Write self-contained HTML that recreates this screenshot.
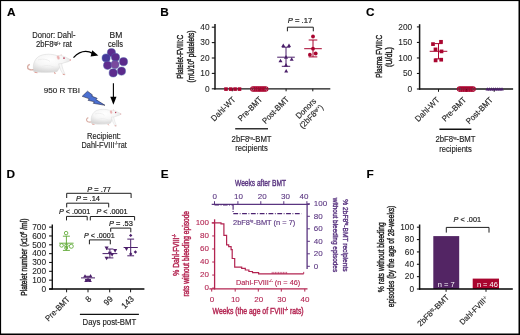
<!DOCTYPE html>
<html><head><meta charset="utf-8"><style>
html,body{margin:0;padding:0;background:#fff;}
body{width:520px;height:335px;overflow:hidden;position:relative;}
svg{position:absolute;left:0;top:0;display:block;filter:blur(0.3px);}
svg text{font-family:"Liberation Sans", sans-serif;stroke:currentColor;stroke-width:0.14px;}
</style></head><body>
<svg width="520" height="335" viewBox="0 0 520 335">
<rect x="0" y="0" width="520" height="335" fill="#fff"/>
<text x="7.0" y="16.2" font-size="11.8" fill="#000" color="#000" text-anchor="start" font-weight="bold" >A</text>
<text x="160.3" y="16.2" font-size="11.8" fill="#000" color="#000" text-anchor="start" font-weight="bold" >B</text>
<text x="366.0" y="16.4" font-size="11.8" fill="#000" color="#000" text-anchor="start" font-weight="bold" >C</text>
<text x="6.6" y="178.1" font-size="11.8" fill="#000" color="#000" text-anchor="start" font-weight="bold" >D</text>
<text x="160.8" y="178.2" font-size="11.8" fill="#000" color="#000" text-anchor="start" font-weight="bold" >E</text>
<text x="366.6" y="178.0" font-size="11.8" fill="#000" color="#000" text-anchor="start" font-weight="bold" >F</text>
<text x="53.9" y="38.0" font-size="8.3" fill="#1e1e1e" color="#1e1e1e" text-anchor="middle" textLength="43.2" lengthAdjust="spacingAndGlyphs" >Donor: Dahl-</text>
<text x="36" y="47.3" font-size="8.3" fill="#1e1e1e" textLength="35.9" lengthAdjust="spacingAndGlyphs" color="#1e1e1e">2bF8<tspan font-size="4.6" dy="-2.8">tg/+</tspan><tspan dy="2.8"> rat</tspan></text>
<text x="115.9" y="37.5" font-size="8.3" fill="#1e1e1e" color="#1e1e1e" text-anchor="middle" textLength="12.8" lengthAdjust="spacingAndGlyphs" >BM</text>
<text x="115.5" y="47.3" font-size="8.3" fill="#1e1e1e" color="#1e1e1e" text-anchor="middle" textLength="15.0" lengthAdjust="spacingAndGlyphs" >cells</text>
<text x="43.8" y="93.2" font-size="8.0" fill="#1e1e1e" color="#1e1e1e" text-anchor="start" textLength="36.2" lengthAdjust="spacingAndGlyphs" >950 R TBI</text>
<text x="104.0" y="138.6" font-size="8.3" fill="#1e1e1e" color="#1e1e1e" text-anchor="middle" textLength="33.8" lengthAdjust="spacingAndGlyphs" >Recipient:</text>
<text x="81.6" y="148" font-size="8.3" fill="#1e1e1e" textLength="45.2" lengthAdjust="spacingAndGlyphs" color="#1e1e1e">Dahl-FVIII<tspan font-size="4.6" dy="-2.8">-/-</tspan><tspan dy="2.8">rat</tspan></text>
<defs>
<radialGradient id="ratg" cx="0.45" cy="0.3" r="0.75">
<stop offset="0" stop-color="#ffffff"/><stop offset="0.5" stop-color="#f6f6f6"/><stop offset="1" stop-color="#d2d2d2"/>
</radialGradient>
<g id="rat">
<path d="M34.5,69.5 C30,70.6 27.2,69.2 27.6,66.6 C27.9,65.4 28.8,64.8 29.8,64.4" stroke="#d8ada4" stroke-width="1.4" fill="none"/>
<path d="M33.6,70.2 C32.4,64 35,58 40,55.8 C45,53.6 52,53.9 57,55.6 L60.5,55.4 C63.5,55.9 67.5,58 70.6,59.8 C70.1,61.2 68,61.9 66,62.3 C63.6,62.9 61.6,63.6 60.2,64.6 C59.6,67.2 58.8,69.6 57.2,71.4 L50,71.9 C44,72.1 38,72.3 33.6,71.4 Z" fill="url(#ratg)" stroke="#d3d3d3" stroke-width="0.45"/>
<path d="M58.6,63.8 C59.6,68 61,71.6 63.2,74.2 L65.2,74.5 C63.4,71 62.2,67.4 61.6,63.6 Z" fill="#f7f7f7" stroke="#cfcfcf" stroke-width="0.4"/>
<path d="M38,60 C42,58.5 47,59 50,61.5 M42,66.5 C46,64.8 51,65.6 55,67.5" stroke="#ececec" stroke-width="0.9" fill="none"/>
<ellipse cx="58.3" cy="57.6" rx="1.4" ry="2.1" fill="#eab0b0" stroke="#f6e6e6" stroke-width="0.4" transform="rotate(-20 58.3 57.6)"/>
<ellipse cx="61.2" cy="55.0" rx="0.6" ry="1.0" fill="#f0d8d8"/>
<circle cx="64.0" cy="58.1" r="0.9" fill="#b8405a"/>
<circle cx="70.3" cy="60.0" r="0.75" fill="#e79a9a"/>
<path d="M62.8,74.3 l1.9,0.3 M54.2,72.2 l1.2,1.6 M34.5,72.3 l3,0.5" stroke="#e0a098" stroke-width="1.1" fill="none"/>
<path d="M36,71.6 C42,72.6 50,72.4 56.5,71.6" stroke="#dcdcdc" stroke-width="0.8" fill="none"/>
</g>
</defs>
<use href="#rat"/>
<use href="#rat" transform="translate(121.5,114) scale(0.8,0.82) translate(-71.3,-60)"/>
<circle cx="111.4" cy="52.6" r="4.1" fill="#5b2c8e" stroke="#4a64ae" stroke-width="0.45"/>
<circle cx="106.1" cy="58.0" r="4.1" fill="#46399a" stroke="#4a64ae" stroke-width="0.45"/>
<circle cx="115.5" cy="57.3" r="4.1" fill="#5a2c8c" stroke="#4a64ae" stroke-width="0.45"/>
<circle cx="123.5" cy="61.7" r="4.1" fill="#5b2a8c" stroke="#4a64ae" stroke-width="0.45"/>
<circle cx="107.6" cy="65.3" r="4.1" fill="#5f2d8e" stroke="#4a64ae" stroke-width="0.45"/>
<circle cx="113.2" cy="72.9" r="4.1" fill="#5d2b8d" stroke="#4a64ae" stroke-width="0.45"/>
<circle cx="121.5" cy="71.1" r="4.1" fill="#5b2a8b" stroke="#4a64ae" stroke-width="0.45"/>
<circle cx="115.0" cy="64.6" r="4.1" fill="#7a4a9e" stroke="#4a64ae" stroke-width="0.45"/>
<path d="M73.5,57.6 Q83,47.8 93,53.6" stroke="#000" stroke-width="1.25" fill="none" />
<polygon points="98.3,55.6 92.2,50.2 90.6,56.4" fill="#000"/>
<line x1="113.4" y1="83.2" x2="113.4" y2="98.5" stroke="#000" stroke-width="1.1" />
<polygon points="110.3,96.8 116.5,96.8 113.4,104.8" fill="#000"/>
<polygon points="82.2,96.3 87.5,91.2 92.6,95 91.6,96.1 97.2,98.3 96,99.6 105,105.3 93.2,103.3 94.4,101.8 88,100.3 89.4,98.8" fill="#4b70d1" stroke="#14142e" stroke-width="0.5" stroke-linejoin="round"/>
<line x1="215" y1="24" x2="215" y2="89.5" stroke="#161616" stroke-width="1.5" />
<line x1="211.8" y1="88.8" x2="215" y2="88.8" stroke="#161616" stroke-width="1.1" />
<text x="209.5" y="91.5" font-size="8.3" fill="#1e1e1e" color="#1e1e1e" text-anchor="end" style="stroke-width:0.08px" >0</text>
<line x1="211.8" y1="73.39999999999999" x2="215" y2="73.39999999999999" stroke="#161616" stroke-width="1.1" />
<text x="209.5" y="76.1" font-size="8.3" fill="#1e1e1e" color="#1e1e1e" text-anchor="end" style="stroke-width:0.08px" >10</text>
<line x1="211.8" y1="58.0" x2="215" y2="58.0" stroke="#161616" stroke-width="1.1" />
<text x="209.5" y="60.7" font-size="8.3" fill="#1e1e1e" color="#1e1e1e" text-anchor="end" style="stroke-width:0.08px" >20</text>
<line x1="211.8" y1="42.599999999999994" x2="215" y2="42.599999999999994" stroke="#161616" stroke-width="1.1" />
<text x="209.5" y="45.3" font-size="8.3" fill="#1e1e1e" color="#1e1e1e" text-anchor="end" style="stroke-width:0.08px" >30</text>
<line x1="211.8" y1="27.199999999999996" x2="215" y2="27.199999999999996" stroke="#161616" stroke-width="1.1" />
<text x="209.5" y="29.899999999999995" font-size="8.3" fill="#1e1e1e" color="#1e1e1e" text-anchor="end" style="stroke-width:0.08px" >40</text>
<line x1="214.3" y1="88.8" x2="330.3" y2="88.8" stroke="#161616" stroke-width="1.3" />
<line x1="232.3" y1="88.8" x2="232.3" y2="91.3" stroke="#161616" stroke-width="1.0" />
<line x1="259.2" y1="88.8" x2="259.2" y2="91.3" stroke="#161616" stroke-width="1.0" />
<line x1="286.1" y1="88.8" x2="286.1" y2="91.3" stroke="#161616" stroke-width="1.0" />
<line x1="312.8" y1="88.8" x2="312.8" y2="91.3" stroke="#161616" stroke-width="1.0" />
<rect x="224.2" y="87.3" width="3.6" height="3.6" fill="#a9052f"/>
<rect x="228.89999999999998" y="87.3" width="3.6" height="3.6" fill="#a9052f"/>
<rect x="233.29999999999998" y="87.3" width="3.6" height="3.6" fill="#a9052f"/>
<rect x="237.7" y="87.3" width="3.6" height="3.6" fill="#a9052f"/>
<circle cx="252.90" cy="89" r="2.25" fill="none" stroke="#a9052f" stroke-width="1.05"/>
<circle cx="254.73" cy="89" r="2.25" fill="none" stroke="#a9052f" stroke-width="1.05"/>
<circle cx="256.56" cy="89" r="2.25" fill="none" stroke="#a9052f" stroke-width="1.05"/>
<circle cx="258.39" cy="89" r="2.25" fill="none" stroke="#a9052f" stroke-width="1.05"/>
<circle cx="260.22" cy="89" r="2.25" fill="none" stroke="#a9052f" stroke-width="1.05"/>
<circle cx="262.05" cy="89" r="2.25" fill="none" stroke="#a9052f" stroke-width="1.05"/>
<circle cx="263.88" cy="89" r="2.25" fill="none" stroke="#a9052f" stroke-width="1.05"/>
<circle cx="265.71" cy="89" r="2.25" fill="none" stroke="#a9052f" stroke-width="1.05"/>
<line x1="286.0" y1="47.2" x2="286.0" y2="66.3" stroke="#4b1f6a" stroke-width="1.0" />
<line x1="281.8" y1="47.2" x2="290.2" y2="47.2" stroke="#4b1f6a" stroke-width="1.0" />
<line x1="281.8" y1="66.3" x2="290.2" y2="66.3" stroke="#4b1f6a" stroke-width="1.0" />
<line x1="277.2" y1="57.2" x2="294.8" y2="57.2" stroke="#4b1f6a" stroke-width="1.0" />
<polygon points="281.30,47.00 285.30,47.00 283.30,43.40" fill="#4b1f6a"/>
<polygon points="287.00,47.00 291.00,47.00 289.00,43.40" fill="#4b1f6a"/>
<polygon points="278.50,62.30 282.50,62.30 280.50,58.70" fill="#4b1f6a"/>
<polygon points="289.70,60.80 293.70,60.80 291.70,57.20" fill="#4b1f6a"/>
<polygon points="284.00,66.70 288.00,66.70 286.00,63.10" fill="#4b1f6a"/>
<polygon points="284.20,72.50 288.20,72.50 286.20,68.90" fill="#4b1f6a"/>
<polygon points="284.00,58.70 288.00,58.70 286.00,55.10" fill="#4b1f6a"/>
<line x1="313.0" y1="40.0" x2="313.0" y2="56.9" stroke="#a9052f" stroke-width="1.0" />
<line x1="308.7" y1="40.0" x2="317.3" y2="40.0" stroke="#a9052f" stroke-width="1.0" />
<line x1="308.7" y1="56.9" x2="317.3" y2="56.9" stroke="#a9052f" stroke-width="1.0" />
<line x1="304.2" y1="48.7" x2="321.8" y2="48.7" stroke="#a9052f" stroke-width="1.0" />
<circle cx="313.0" cy="36.5" r="1.9" fill="#a9052f"/>
<circle cx="313.0" cy="48.7" r="1.9" fill="#a9052f"/>
<circle cx="309.9" cy="54.7" r="1.9" fill="#a9052f"/>
<circle cx="315.7" cy="53.5" r="1.9" fill="#a9052f"/>
<path d="M287.4,31.3 V27.2 H313.3 V31.3" stroke="#1e1e1e" stroke-width="1.0" fill="none" />
<text x="287.7" y="22.5" style="stroke-width:0.22px" font-size="8.0" fill="#1e1e1e" text-anchor="start" textLength="24.6" lengthAdjust="spacingAndGlyphs" color="#1e1e1e"><tspan font-style="italic">P</tspan> = .17</text>
<text x="183.4" y="78.8" font-size="9.2" fill="#1e1e1e" color="#1e1e1e" text-anchor="start" textLength="44.0" lengthAdjust="spacingAndGlyphs" transform="rotate(-90 183.4 78.8)" style="stroke-width:0.42px" >Platelet-FVIII:C</text>
<text x="193.6" y="82.4" style="stroke-width:0.42px" font-size="9.2" fill="#1e1e1e" textLength="51.9" lengthAdjust="spacingAndGlyphs" transform="rotate(-90 193.6 82.4)" color="#1e1e1e">(mU/10<tspan font-size="4.6" dy="-3">8</tspan><tspan dy="3"> platelets)</tspan></text>
<text x="236.1" y="100.0" font-size="8.3" fill="#1e1e1e" color="#1e1e1e" text-anchor="end" textLength="30.8" lengthAdjust="spacingAndGlyphs" transform="rotate(-45 236.1 100.0)" >Dahl-WT</text>
<text x="262.9" y="100.0" font-size="8.3" fill="#1e1e1e" color="#1e1e1e" text-anchor="end" textLength="30.6" lengthAdjust="spacingAndGlyphs" transform="rotate(-45 262.9 100.0)" >Pre-BMT</text>
<text x="289.6" y="100.0" font-size="8.3" fill="#1e1e1e" color="#1e1e1e" text-anchor="end" textLength="34.2" lengthAdjust="spacingAndGlyphs" transform="rotate(-45 289.6 100.0)" >Post-BMT</text>
<text x="307.9" y="110.5" font-size="8.3" fill="#1e1e1e" color="#1e1e1e" text-anchor="middle" textLength="25.0" lengthAdjust="spacingAndGlyphs" transform="rotate(-45 307.9 110.5)" >Donors</text>
<text x="313.3" y="118.4" font-size="8.3" fill="#1e1e1e" text-anchor="middle" textLength="30" lengthAdjust="spacingAndGlyphs" transform="rotate(-45 313.3 118.4)" color="#1e1e1e">(2bF8<tspan font-size="4.3" dy="-2.8">tg/+</tspan><tspan dy="2.8">)</tspan></text>
<line x1="235.2" y1="128.7" x2="268.0" y2="128.7" stroke="#333" stroke-width="1.4" />
<text x="251.6" y="141.8" font-size="8.4" fill="#1e1e1e" text-anchor="middle" textLength="40" lengthAdjust="spacingAndGlyphs" color="#1e1e1e">2bF8<tspan font-size="4.4" dy="-2.8">tg</tspan><tspan dy="2.8">-BMT</tspan></text>
<text x="251.5" y="151.3" font-size="8.4" fill="#1e1e1e" color="#1e1e1e" text-anchor="middle" textLength="32.6" lengthAdjust="spacingAndGlyphs" >recipients</text>
<line x1="419.6" y1="24.2" x2="419.6" y2="89.7" stroke="#161616" stroke-width="1.5" />
<line x1="416.9" y1="89.0" x2="419.6" y2="89.0" stroke="#161616" stroke-width="1.1" />
<text x="412.2" y="91.7" font-size="8.3" fill="#1e1e1e" color="#1e1e1e" text-anchor="end" style="stroke-width:0.08px" >0</text>
<line x1="416.9" y1="73.48" x2="419.6" y2="73.48" stroke="#161616" stroke-width="1.1" />
<text x="412.2" y="76.18" font-size="8.3" fill="#1e1e1e" color="#1e1e1e" text-anchor="end" style="stroke-width:0.08px" >50</text>
<line x1="416.9" y1="57.96" x2="419.6" y2="57.96" stroke="#161616" stroke-width="1.1" />
<text x="412.2" y="60.660000000000004" font-size="8.3" fill="#1e1e1e" color="#1e1e1e" text-anchor="end" style="stroke-width:0.08px" >100</text>
<line x1="416.9" y1="42.44" x2="419.6" y2="42.44" stroke="#161616" stroke-width="1.1" />
<text x="412.2" y="45.14" font-size="8.3" fill="#1e1e1e" color="#1e1e1e" text-anchor="end" style="stroke-width:0.08px" >150</text>
<line x1="416.9" y1="26.92" x2="419.6" y2="26.92" stroke="#161616" stroke-width="1.1" />
<text x="412.2" y="29.62" font-size="8.3" fill="#1e1e1e" color="#1e1e1e" text-anchor="end" style="stroke-width:0.08px" >200</text>
<line x1="418.9" y1="89.0" x2="513.1" y2="89.0" stroke="#161616" stroke-width="1.3" />
<line x1="438.5" y1="89" x2="438.5" y2="91.8" stroke="#161616" stroke-width="1.0" />
<line x1="466.5" y1="89" x2="466.5" y2="91.8" stroke="#161616" stroke-width="1.0" />
<line x1="494.2" y1="89" x2="494.2" y2="91.8" stroke="#161616" stroke-width="1.0" />
<line x1="438.5" y1="43.6" x2="438.5" y2="58.9" stroke="#a9052f" stroke-width="1.0" />
<line x1="434.5" y1="43.6" x2="442.5" y2="43.6" stroke="#a9052f" stroke-width="1.0" />
<line x1="434.5" y1="58.9" x2="442.5" y2="58.9" stroke="#a9052f" stroke-width="1.0" />
<line x1="429.7" y1="51.3" x2="447.3" y2="51.3" stroke="#a9052f" stroke-width="1.0" />
<rect x="431.15" y="42.25" width="3.7" height="3.7" fill="#a9052f"/>
<rect x="439.15" y="39.949999999999996" width="3.7" height="3.7" fill="#a9052f"/>
<rect x="433.65" y="47.55" width="3.7" height="3.7" fill="#a9052f"/>
<rect x="439.65" y="49.55" width="3.7" height="3.7" fill="#a9052f"/>
<rect x="433.75" y="58.55" width="3.7" height="3.7" fill="#a9052f"/>
<rect x="439.34999999999997" y="57.85" width="3.7" height="3.7" fill="#a9052f"/>
<circle cx="459.60" cy="89.1" r="2.25" fill="none" stroke="#a9052f" stroke-width="1.05"/>
<circle cx="461.53" cy="89.1" r="2.25" fill="none" stroke="#a9052f" stroke-width="1.05"/>
<circle cx="463.46" cy="89.1" r="2.25" fill="none" stroke="#a9052f" stroke-width="1.05"/>
<circle cx="465.39" cy="89.1" r="2.25" fill="none" stroke="#a9052f" stroke-width="1.05"/>
<circle cx="467.32" cy="89.1" r="2.25" fill="none" stroke="#a9052f" stroke-width="1.05"/>
<circle cx="469.25" cy="89.1" r="2.25" fill="none" stroke="#a9052f" stroke-width="1.05"/>
<circle cx="471.18" cy="89.1" r="2.25" fill="none" stroke="#a9052f" stroke-width="1.05"/>
<circle cx="473.11" cy="89.1" r="2.25" fill="none" stroke="#a9052f" stroke-width="1.05"/>
<polygon points="485.50,90.53 489.10,90.53 487.30,87.29" fill="#4b1f6a"/>
<polygon points="487.60,90.53 491.20,90.53 489.40,87.29" fill="#4b1f6a"/>
<polygon points="489.70,90.53 493.30,90.53 491.50,87.29" fill="#4b1f6a"/>
<polygon points="491.80,90.53 495.40,90.53 493.60,87.29" fill="#4b1f6a"/>
<polygon points="493.90,90.53 497.50,90.53 495.70,87.29" fill="#4b1f6a"/>
<polygon points="496.00,90.53 499.60,90.53 497.80,87.29" fill="#4b1f6a"/>
<polygon points="498.10,90.53 501.70,90.53 499.90,87.29" fill="#4b1f6a"/>
<polygon points="500.20,90.53 503.80,90.53 502.00,87.29" fill="#4b1f6a"/>
<text x="382.2" y="77.8" font-size="9.3" fill="#1e1e1e" color="#1e1e1e" text-anchor="start" textLength="43.0" lengthAdjust="spacingAndGlyphs" transform="rotate(-90 382.2 77.8)" style="stroke-width:0.42px" >Plasma FVIII:C</text>
<text x="392.2" y="67.1" font-size="9.3" fill="#1e1e1e" color="#1e1e1e" text-anchor="start" textLength="20.1" lengthAdjust="spacingAndGlyphs" transform="rotate(-90 392.2 67.1)" style="stroke-width:0.42px" >(U/dL)</text>
<text x="440.1" y="100.4" font-size="8.3" fill="#1e1e1e" color="#1e1e1e" text-anchor="end" textLength="30.8" lengthAdjust="spacingAndGlyphs" transform="rotate(-45 440.1 100.4)" >Dahl-WT</text>
<text x="466.8" y="100.4" font-size="8.3" fill="#1e1e1e" color="#1e1e1e" text-anchor="end" textLength="30.6" lengthAdjust="spacingAndGlyphs" transform="rotate(-45 466.8 100.4)" >Pre-BMT</text>
<text x="493.45" y="100.4" font-size="8.3" fill="#1e1e1e" color="#1e1e1e" text-anchor="end" textLength="34.2" lengthAdjust="spacingAndGlyphs" transform="rotate(-45 493.45 100.4)" >Post-BMT</text>
<line x1="439.4" y1="129.2" x2="471.4" y2="129.2" stroke="#111" stroke-width="1.4" />
<text x="455.5" y="142.0" font-size="8.4" fill="#1e1e1e" text-anchor="middle" textLength="40" lengthAdjust="spacingAndGlyphs" color="#1e1e1e">2bF8<tspan font-size="4.4" dy="-2.8">tg</tspan><tspan dy="2.8">-BMT</tspan></text>
<text x="455.5" y="151.5" font-size="8.4" fill="#1e1e1e" color="#1e1e1e" text-anchor="middle" textLength="32.6" lengthAdjust="spacingAndGlyphs" >recipients</text>
<line x1="52.3" y1="224.5" x2="52.3" y2="289.6" stroke="#161616" stroke-width="1.4" />
<line x1="49.1" y1="289.0" x2="52.1" y2="289.0" stroke="#161616" stroke-width="1.1" />
<text x="46.0" y="291.7" font-size="8.3" fill="#1e1e1e" color="#1e1e1e" text-anchor="end" style="stroke-width:0.08px" >0</text>
<line x1="49.1" y1="280.16" x2="52.1" y2="280.16" stroke="#161616" stroke-width="1.1" />
<text x="46.0" y="282.86" font-size="8.3" fill="#1e1e1e" color="#1e1e1e" text-anchor="end" style="stroke-width:0.08px" >100</text>
<line x1="49.1" y1="271.32" x2="52.1" y2="271.32" stroke="#161616" stroke-width="1.1" />
<text x="46.0" y="274.02" font-size="8.3" fill="#1e1e1e" color="#1e1e1e" text-anchor="end" style="stroke-width:0.08px" >200</text>
<line x1="49.1" y1="262.48" x2="52.1" y2="262.48" stroke="#161616" stroke-width="1.1" />
<text x="46.0" y="265.18" font-size="8.3" fill="#1e1e1e" color="#1e1e1e" text-anchor="end" style="stroke-width:0.08px" >300</text>
<line x1="49.1" y1="253.64" x2="52.1" y2="253.64" stroke="#161616" stroke-width="1.1" />
<text x="46.0" y="256.34" font-size="8.3" fill="#1e1e1e" color="#1e1e1e" text-anchor="end" style="stroke-width:0.08px" >400</text>
<line x1="49.1" y1="244.8" x2="52.1" y2="244.8" stroke="#161616" stroke-width="1.1" />
<text x="46.0" y="247.5" font-size="8.3" fill="#1e1e1e" color="#1e1e1e" text-anchor="end" style="stroke-width:0.08px" >500</text>
<line x1="49.1" y1="235.95999999999998" x2="52.1" y2="235.95999999999998" stroke="#161616" stroke-width="1.1" />
<text x="46.0" y="238.65999999999997" font-size="8.3" fill="#1e1e1e" color="#1e1e1e" text-anchor="end" style="stroke-width:0.08px" >600</text>
<line x1="49.1" y1="227.12" x2="52.1" y2="227.12" stroke="#161616" stroke-width="1.1" />
<text x="46.0" y="229.82" font-size="8.3" fill="#1e1e1e" color="#1e1e1e" text-anchor="end" style="stroke-width:0.08px" >700</text>
<line x1="49.1" y1="289.0" x2="144.4" y2="289.0" stroke="#050505" stroke-width="1.3" />
<line x1="66.6" y1="289" x2="66.6" y2="292.3" stroke="#161616" stroke-width="1.0" />
<line x1="88.0" y1="289" x2="88.0" y2="292.3" stroke="#161616" stroke-width="1.0" />
<line x1="109.7" y1="289" x2="109.7" y2="292.3" stroke="#161616" stroke-width="1.0" />
<line x1="130.6" y1="289" x2="130.6" y2="292.3" stroke="#161616" stroke-width="1.0" />
<line x1="66.4" y1="236.2" x2="66.4" y2="250.4" stroke="#62ab3a" stroke-width="0.95" />
<line x1="62.900000000000006" y1="236.2" x2="69.9" y2="236.2" stroke="#62ab3a" stroke-width="0.95" />
<line x1="62.900000000000006" y1="250.4" x2="69.9" y2="250.4" stroke="#62ab3a" stroke-width="0.95" />
<line x1="59.2" y1="243.2" x2="73.60000000000001" y2="243.2" stroke="#62ab3a" stroke-width="0.95" />
<circle cx="66.1" cy="233.1" r="1.75" fill="none" stroke="#62ab3a" stroke-width="0.9"/>
<circle cx="61.6" cy="245.4" r="1.8" fill="none" stroke="#62ab3a" stroke-width="0.9"/>
<circle cx="66.4" cy="245.6" r="1.7" fill="none" stroke="#62ab3a" stroke-width="0.9"/>
<circle cx="71.3" cy="246.3" r="2.0" fill="none" stroke="#62ab3a" stroke-width="0.9"/>
<circle cx="66.2" cy="248.0" r="1.5" fill="none" stroke="#62ab3a" stroke-width="0.9"/>
<line x1="88.0" y1="276.3" x2="88.0" y2="279.6" stroke="#4b1f6a" stroke-width="1.0" />
<line x1="85.0" y1="276.3" x2="91.0" y2="276.3" stroke="#4b1f6a" stroke-width="1.0" />
<line x1="85.0" y1="279.6" x2="91.0" y2="279.6" stroke="#4b1f6a" stroke-width="1.0" />
<line x1="81.0" y1="277.9" x2="95.0" y2="277.9" stroke="#4b1f6a" stroke-width="1.0" />
<polygon points="83.10,277.62 86.90,277.62 85.00,274.19" fill="#4b1f6a"/>
<polygon points="88.70,277.42 92.50,277.42 90.60,274.00" fill="#4b1f6a"/>
<polygon points="84.30,281.92 88.10,281.92 86.20,278.50" fill="#4b1f6a"/>
<polygon points="88.00,281.92 91.80,281.92 89.90,278.50" fill="#4b1f6a"/>
<polygon points="86.10,281.62 89.90,281.62 88.00,278.19" fill="#4b1f6a"/>
<line x1="109.9" y1="249.0" x2="109.9" y2="257.9" stroke="#4b1f6a" stroke-width="1.0" />
<line x1="106.4" y1="249.0" x2="113.4" y2="249.0" stroke="#4b1f6a" stroke-width="1.0" />
<line x1="106.4" y1="257.9" x2="113.4" y2="257.9" stroke="#4b1f6a" stroke-width="1.0" />
<line x1="102.5" y1="253.6" x2="117.30000000000001" y2="253.6" stroke="#4b1f6a" stroke-width="1.0" />
<polygon points="104.55,246.46 108.65,246.46 106.60,250.15" fill="#4b1f6a"/>
<polygon points="113.05,249.06 117.15,249.06 115.10,252.75" fill="#4b1f6a"/>
<polygon points="110.05,253.06 114.15,253.06 112.10,256.75" fill="#4b1f6a"/>
<polygon points="104.55,256.66 108.65,256.66 106.60,260.35" fill="#4b1f6a"/>
<polygon points="107.85,251.66 111.95,251.66 109.90,255.35" fill="#4b1f6a"/>
<line x1="130.7" y1="239.1" x2="130.7" y2="255.8" stroke="#4b1f6a" stroke-width="1.0" />
<line x1="127.29999999999998" y1="239.1" x2="134.1" y2="239.1" stroke="#4b1f6a" stroke-width="1.0" />
<line x1="127.29999999999998" y1="255.8" x2="134.1" y2="255.8" stroke="#4b1f6a" stroke-width="1.0" />
<line x1="123.6" y1="247.5" x2="137.79999999999998" y2="247.5" stroke="#4b1f6a" stroke-width="1.0" />
<polygon points="130.7,233.70000000000002 132.39999999999998,235.4 130.7,237.1 129.0,235.4" fill="#4b1f6a"/>
<polygon points="135.4,250.3 137.1,252.0 135.4,253.7 133.70000000000002,252.0" fill="#4b1f6a"/>
<polygon points="130.7,252.20000000000002 132.39999999999998,253.9 130.7,255.6 129.0,253.9" fill="#4b1f6a"/>
<polygon points="124.45,247.26 128.55,247.26 126.50,250.95" fill="#4b1f6a"/>
<path d="M66.7,198.0 V193.3 H131.1 V198.0" stroke="#1e1e1e" stroke-width="1.0" fill="none" />
<path d="M66.7,207.4 V203.2 H108.7 V207.4" stroke="#1e1e1e" stroke-width="1.0" fill="none" />
<path d="M66.5,220.4 V216.4 H87.2 V220.4" stroke="#1e1e1e" stroke-width="1.0" fill="none" />
<path d="M90.3,220.4 V216.5 H134.6 V220.4" stroke="#1e1e1e" stroke-width="1.0" fill="none" />
<path d="M110.7,231.8 V228.1 H130.8 V232.3" stroke="#1e1e1e" stroke-width="1.0" fill="none" />
<path d="M89.4,244.3 V239.9 H110.3 V244.3" stroke="#1e1e1e" stroke-width="1.0" fill="none" />
<text x="87.2" y="191.5" style="stroke-width:0.22px" font-size="8.0" fill="#1e1e1e" text-anchor="start" textLength="23.8" lengthAdjust="spacingAndGlyphs" color="#1e1e1e"><tspan font-style="italic">P</tspan> = .77</text>
<text x="75.9" y="201.3" style="stroke-width:0.22px" font-size="8.0" fill="#1e1e1e" text-anchor="start" textLength="24.2" lengthAdjust="spacingAndGlyphs" color="#1e1e1e"><tspan font-style="italic">P</tspan> = .14</text>
<text x="59.0" y="214.4" style="stroke-width:0.22px" font-size="8.0" fill="#1e1e1e" text-anchor="start" textLength="31.2" lengthAdjust="spacingAndGlyphs" color="#1e1e1e"><tspan font-style="italic">P</tspan> &lt; .0001</text>
<text x="96.5" y="214.4" style="stroke-width:0.22px" font-size="8.0" fill="#1e1e1e" text-anchor="start" textLength="31.1" lengthAdjust="spacingAndGlyphs" color="#1e1e1e"><tspan font-style="italic">P</tspan> &lt; .0001</text>
<text x="109.0" y="225.7" style="stroke-width:0.22px" font-size="8.0" fill="#1e1e1e" text-anchor="start" textLength="23.9" lengthAdjust="spacingAndGlyphs" color="#1e1e1e"><tspan font-style="italic">P</tspan> = .53</text>
<text x="84.0" y="238.0" style="stroke-width:0.22px" font-size="8.0" fill="#1e1e1e" text-anchor="start" textLength="30.7" lengthAdjust="spacingAndGlyphs" color="#1e1e1e"><tspan font-style="italic">P</tspan> &lt; .0001</text>
<text x="27.4" y="295.8" style="stroke-width:0.42px" font-size="9.0" fill="#1e1e1e" textLength="77.2" lengthAdjust="spacingAndGlyphs" transform="rotate(-90 27.4 295.8)" color="#1e1e1e">Platelet number (x10<tspan font-size="4.8" dy="-3.2">6</tspan><tspan dy="3.2"> /ml)</tspan></text>
<text x="70.4" y="300.0" font-size="8.3" fill="#1e1e1e" color="#1e1e1e" text-anchor="end" textLength="30.8" lengthAdjust="spacingAndGlyphs" transform="rotate(-45 70.4 300.0)" >Pre-BMT</text>
<text x="92.0" y="299.6" font-size="8.5" fill="#1e1e1e" color="#1e1e1e" text-anchor="end" textLength="4.6" lengthAdjust="spacingAndGlyphs" transform="rotate(-45 92.0 299.6)" >8</text>
<text x="113.5" y="299.6" font-size="8.5" fill="#1e1e1e" color="#1e1e1e" text-anchor="end" textLength="9.2" lengthAdjust="spacingAndGlyphs" transform="rotate(-45 113.5 299.6)" >99</text>
<text x="134.5" y="299.6" font-size="8.5" fill="#1e1e1e" color="#1e1e1e" text-anchor="end" textLength="13.7" lengthAdjust="spacingAndGlyphs" transform="rotate(-45 134.5 299.6)" >143</text>
<line x1="79.9" y1="314.4" x2="138.9" y2="314.4" stroke="#111" stroke-width="1.4" />
<text x="109.4" y="324.8" font-size="8.4" fill="#1e1e1e" color="#1e1e1e" text-anchor="middle" textLength="53.6" lengthAdjust="spacingAndGlyphs" >Days post-BMT</text>
<line x1="211.7" y1="204.3" x2="309.6" y2="204.3" stroke="#5a3580" stroke-width="1.3" />
<line x1="214.5" y1="201.2" x2="214.5" y2="204.3" stroke="#5a3580" stroke-width="1.0" />
<line x1="237.9" y1="201.2" x2="237.9" y2="204.3" stroke="#5a3580" stroke-width="1.0" />
<line x1="260.8" y1="201.2" x2="260.8" y2="204.3" stroke="#5a3580" stroke-width="1.0" />
<line x1="283.8" y1="201.2" x2="283.8" y2="204.3" stroke="#5a3580" stroke-width="1.0" />
<line x1="306.9" y1="201.2" x2="306.9" y2="204.3" stroke="#5a3580" stroke-width="1.0" />
<text x="214.65" y="198.6" font-size="8.0" fill="#5a3580" color="#5a3580" text-anchor="middle" style="stroke-width:0.1px" >0</text>
<text x="238.45" y="198.6" font-size="8.0" fill="#5a3580" color="#5a3580" text-anchor="middle" style="stroke-width:0.1px" >10</text>
<text x="262.2" y="198.6" font-size="8.0" fill="#5a3580" color="#5a3580" text-anchor="middle" style="stroke-width:0.1px" >20</text>
<text x="285.4" y="198.6" font-size="8.0" fill="#5a3580" color="#5a3580" text-anchor="middle" style="stroke-width:0.1px" >30</text>
<text x="304.0" y="198.6" font-size="8.0" fill="#5a3580" color="#5a3580" text-anchor="middle" style="stroke-width:0.1px" >40</text>
<text x="235.0" y="186.1" font-size="8.8" fill="#5a3580" color="#5a3580" text-anchor="start" textLength="51.0" lengthAdjust="spacingAndGlyphs" style="stroke-width:0.4px" >Weeks after BMT</text>
<line x1="307.1" y1="204.3" x2="307.1" y2="269.0" stroke="#5a3580" stroke-width="1.3" />
<line x1="307.1" y1="266.3" x2="309.9" y2="266.3" stroke="#5a3580" stroke-width="1.0" />
<text x="313.8" y="268.65000000000003" font-size="8.0" fill="#5a3580" color="#5a3580" text-anchor="start" style="stroke-width:0.1px" >0</text>
<line x1="307.1" y1="253.8" x2="309.9" y2="253.8" stroke="#5a3580" stroke-width="1.0" />
<text x="313.8" y="256.15000000000003" font-size="8.0" fill="#5a3580" color="#5a3580" text-anchor="start" style="stroke-width:0.1px" >20</text>
<line x1="307.1" y1="241.3" x2="309.9" y2="241.3" stroke="#5a3580" stroke-width="1.0" />
<text x="313.8" y="243.65" font-size="8.0" fill="#5a3580" color="#5a3580" text-anchor="start" style="stroke-width:0.1px" >40</text>
<line x1="307.1" y1="228.8" x2="309.9" y2="228.8" stroke="#5a3580" stroke-width="1.0" />
<text x="313.8" y="231.15" font-size="8.0" fill="#5a3580" color="#5a3580" text-anchor="start" style="stroke-width:0.1px" >60</text>
<line x1="307.1" y1="216.3" x2="309.9" y2="216.3" stroke="#5a3580" stroke-width="1.0" />
<text x="313.8" y="218.65" font-size="8.0" fill="#5a3580" color="#5a3580" text-anchor="start" style="stroke-width:0.1px" >80</text>
<line x1="307.1" y1="203.8" x2="309.9" y2="203.8" stroke="#5a3580" stroke-width="1.0" />
<text x="313.8" y="206.15" font-size="8.0" fill="#5a3580" color="#5a3580" text-anchor="start" style="stroke-width:0.1px" >100</text>
<text x="343.3" y="199.3" style="stroke-width:0.38px" font-size="7.7" fill="#5a3580" textLength="72.3" lengthAdjust="spacingAndGlyphs" transform="rotate(90 343.3 199.3)" color="#5a3580">% 2bF8<tspan font-size="4.4" dy="-2.8">tg</tspan><tspan dy="2.8">-BMT recipients</tspan></text>
<text x="333.2" y="197.8" font-size="7.1" fill="#5a3580" color="#5a3580" text-anchor="start" textLength="74.4" lengthAdjust="spacingAndGlyphs" transform="rotate(90 333.2 197.8)" style="stroke-width:0.38px" >without bleeding episodes</text>
<path d="M214.5,205.0 H233.1" stroke="#4b2270" stroke-width="1.1" fill="none" stroke-dasharray="4.6 1.5 0.9 1.5"/>
<path d="M233.1,204.5 V213.5" stroke="#4b2270" stroke-width="1.1" fill="none" stroke-dasharray="5.2 1.4 1.0 3"/>
<path d="M233.3,213.55 H301.5" stroke="#4b2270" stroke-width="1.15" fill="none" stroke-dasharray="4.8 1.6 0.8 1.6"/>
<text x="233.0" y="224.8" font-size="7.8" fill="#5a3580" textLength="62.3" lengthAdjust="spacingAndGlyphs" color="#5a3580">2bF8<tspan font-size="4.4" dy="-2.8">tg</tspan><tspan dy="2.8">-BMT (n = 7)</tspan></text>
<line x1="214.6" y1="219.3" x2="214.6" y2="289.5" stroke="#b32451" stroke-width="1.3" />
<line x1="212.2" y1="288.1" x2="214.6" y2="288.1" stroke="#b32451" stroke-width="1.0" />
<text x="209.0" y="290.45000000000005" font-size="8.0" fill="#b32451" color="#b32451" text-anchor="end" style="stroke-width:0.1px" >0</text>
<line x1="212.2" y1="275.06" x2="214.6" y2="275.06" stroke="#b32451" stroke-width="1.0" />
<text x="209.0" y="277.41" font-size="8.0" fill="#b32451" color="#b32451" text-anchor="end" style="stroke-width:0.1px" >20</text>
<line x1="212.2" y1="262.02000000000004" x2="214.6" y2="262.02000000000004" stroke="#b32451" stroke-width="1.0" />
<text x="209.0" y="264.37000000000006" font-size="8.0" fill="#b32451" color="#b32451" text-anchor="end" style="stroke-width:0.1px" >40</text>
<line x1="212.2" y1="248.98000000000002" x2="214.6" y2="248.98000000000002" stroke="#b32451" stroke-width="1.0" />
<text x="209.0" y="251.33" font-size="8.0" fill="#b32451" color="#b32451" text-anchor="end" style="stroke-width:0.1px" >60</text>
<line x1="212.2" y1="235.94000000000003" x2="214.6" y2="235.94000000000003" stroke="#b32451" stroke-width="1.0" />
<text x="209.0" y="238.29000000000002" font-size="8.0" fill="#b32451" color="#b32451" text-anchor="end" style="stroke-width:0.1px" >80</text>
<line x1="212.2" y1="222.90000000000003" x2="214.6" y2="222.90000000000003" stroke="#b32451" stroke-width="1.0" />
<text x="209.0" y="225.25000000000003" font-size="8.0" fill="#b32451" color="#b32451" text-anchor="end" style="stroke-width:0.1px" >100</text>
<line x1="209.4" y1="288.9" x2="307.5" y2="288.9" stroke="#b32451" stroke-width="1.3" />
<line x1="211.7" y1="288.9" x2="211.7" y2="291.6" stroke="#b32451" stroke-width="1.0" />
<line x1="235.2" y1="288.9" x2="235.2" y2="291.6" stroke="#b32451" stroke-width="1.0" />
<line x1="258.3" y1="288.9" x2="258.3" y2="291.6" stroke="#b32451" stroke-width="1.0" />
<line x1="281.3" y1="288.9" x2="281.3" y2="291.6" stroke="#b32451" stroke-width="1.0" />
<line x1="304.8" y1="288.9" x2="304.8" y2="291.6" stroke="#b32451" stroke-width="1.0" />
<text x="212.1" y="301.9" font-size="8.0" fill="#b32451" color="#b32451" text-anchor="middle" style="stroke-width:0.1px" >0</text>
<text x="235.35000000000002" y="301.9" font-size="8.0" fill="#b32451" color="#b32451" text-anchor="middle" style="stroke-width:0.1px" >10</text>
<text x="258.65" y="301.9" font-size="8.0" fill="#b32451" color="#b32451" text-anchor="middle" style="stroke-width:0.1px" >20</text>
<text x="281.65" y="301.9" font-size="8.0" fill="#b32451" color="#b32451" text-anchor="middle" style="stroke-width:0.1px" >30</text>
<text x="304.9" y="301.9" font-size="8.0" fill="#b32451" color="#b32451" text-anchor="middle" style="stroke-width:0.1px" >40</text>
<text x="212.6" y="314.0" style="stroke-width:0.42px" font-size="8.8" fill="#b32451" textLength="91.0" lengthAdjust="spacingAndGlyphs" color="#b32451">Weeks (the age of FVIII<tspan font-size="4.8" dy="-3">-/-</tspan><tspan dy="3"> rats)</tspan></text>
<text x="178.9" y="275.7" style="stroke-width:0.42px" font-size="8.4" fill="#b32451" textLength="41.7" lengthAdjust="spacingAndGlyphs" transform="rotate(-90 178.9 275.7)" color="#b32451">% Dahl-FVIII<tspan font-size="4.6" dy="-3">-/-</tspan></text>
<text x="188.6" y="296.6" font-size="8.4" fill="#b32451" color="#b32451" text-anchor="start" textLength="85.6" lengthAdjust="spacingAndGlyphs" transform="rotate(-90 188.6 296.6)" style="stroke-width:0.42px" >rats without bleeding episode</text>
<path d="M211.7,222.9 H221.0 V223.8 H223.9 V235.3 H226.6 V244.9 H228.7 V246.7 H231.1 V249.6 H232.2 V258.5 H234.7 V267.1 H241.7 V268.3 H245.3 V270.0 H248.9 V271.5 H252.5 V272.6 H258.6 V273.9 H303.7" stroke="#b32451" stroke-width="1.2" fill="none" />
<line x1="272.2" y1="273.9" x2="272.2" y2="271.9" stroke="#b32451" stroke-width="0.7" />
<line x1="273.8" y1="273.9" x2="273.8" y2="271.9" stroke="#b32451" stroke-width="0.7" />
<line x1="275.4" y1="273.9" x2="275.4" y2="271.9" stroke="#b32451" stroke-width="0.7" />
<line x1="277.0" y1="273.9" x2="277.0" y2="271.9" stroke="#b32451" stroke-width="0.7" />
<line x1="278.59999999999997" y1="273.9" x2="278.59999999999997" y2="271.9" stroke="#b32451" stroke-width="0.7" />
<line x1="280.2" y1="273.9" x2="280.2" y2="271.9" stroke="#b32451" stroke-width="0.7" />
<line x1="281.8" y1="273.9" x2="281.8" y2="271.9" stroke="#b32451" stroke-width="0.7" />
<line x1="283.4" y1="273.9" x2="283.4" y2="271.9" stroke="#b32451" stroke-width="0.7" />
<line x1="285.0" y1="273.9" x2="285.0" y2="271.9" stroke="#b32451" stroke-width="0.7" />
<line x1="286.59999999999997" y1="273.9" x2="286.59999999999997" y2="271.9" stroke="#b32451" stroke-width="0.7" />
<line x1="303.7" y1="273.9" x2="303.7" y2="271.9" stroke="#b32451" stroke-width="0.9" />
<text x="236.0" y="284.6" font-size="7.6" fill="#b32451" textLength="64.2" lengthAdjust="spacingAndGlyphs" color="#b32451">Dahl-FVIII<tspan font-size="4.3" dy="-2.8">-/-</tspan><tspan dy="2.8">  (n = 46)</tspan></text>
<line x1="419.6" y1="224.5" x2="419.6" y2="289.7" stroke="#161616" stroke-width="1.5" />
<line x1="416.9" y1="289.0" x2="419.6" y2="289.0" stroke="#161616" stroke-width="1.1" />
<text x="414.0" y="291.7" font-size="8.3" fill="#1e1e1e" color="#1e1e1e" text-anchor="end" style="stroke-width:0.08px" >0</text>
<line x1="416.9" y1="276.64" x2="419.6" y2="276.64" stroke="#161616" stroke-width="1.1" />
<text x="414.0" y="279.34" font-size="8.3" fill="#1e1e1e" color="#1e1e1e" text-anchor="end" style="stroke-width:0.08px" >20</text>
<line x1="416.9" y1="264.28" x2="419.6" y2="264.28" stroke="#161616" stroke-width="1.1" />
<text x="414.0" y="266.97999999999996" font-size="8.3" fill="#1e1e1e" color="#1e1e1e" text-anchor="end" style="stroke-width:0.08px" >40</text>
<line x1="416.9" y1="251.92000000000002" x2="419.6" y2="251.92000000000002" stroke="#161616" stroke-width="1.1" />
<text x="414.0" y="254.62" font-size="8.3" fill="#1e1e1e" color="#1e1e1e" text-anchor="end" style="stroke-width:0.08px" >60</text>
<line x1="416.9" y1="239.56" x2="419.6" y2="239.56" stroke="#161616" stroke-width="1.1" />
<text x="414.0" y="242.26" font-size="8.3" fill="#1e1e1e" color="#1e1e1e" text-anchor="end" style="stroke-width:0.08px" >80</text>
<line x1="416.9" y1="227.2" x2="419.6" y2="227.2" stroke="#161616" stroke-width="1.1" />
<text x="414.0" y="229.89999999999998" font-size="8.3" fill="#1e1e1e" color="#1e1e1e" text-anchor="end" style="stroke-width:0.08px" >100</text>
<rect x="433.3" y="236.1" width="25.9" height="52.9" fill="#532564"/>
<rect x="472.7" y="278.6" width="26.3" height="10.4" fill="#a9052f"/>
<line x1="418.9" y1="289.0" x2="512.8" y2="289.0" stroke="#050505" stroke-width="1.3" />
<line x1="446.1" y1="289" x2="446.1" y2="291.8" stroke="#161616" stroke-width="1.0" />
<line x1="486.0" y1="289" x2="486.0" y2="291.8" stroke="#161616" stroke-width="1.0" />
<text x="446.2" y="286.7" font-size="7.0" fill="#fff" color="#fff" text-anchor="middle" textLength="17.0" lengthAdjust="spacingAndGlyphs" style="stroke-width:0px" >n = 7</text>
<text x="487.4" y="286.9" font-size="7.0" fill="#fff" color="#fff" text-anchor="middle" textLength="21.0" lengthAdjust="spacingAndGlyphs" style="stroke-width:0px" >n = 46</text>
<path d="M446.3,232.6 V227.4 H489.0 V232.6" stroke="#1e1e1e" stroke-width="1.0" fill="none" />
<text x="453.6" y="222.4" style="stroke-width:0.22px" font-size="8.0" fill="#1e1e1e" text-anchor="start" textLength="27.4" lengthAdjust="spacingAndGlyphs" color="#1e1e1e"><tspan font-style="italic">P</tspan> &lt; .001</text>
<text x="383.6" y="292.2" font-size="9.2" fill="#1e1e1e" color="#1e1e1e" text-anchor="start" textLength="70.1" lengthAdjust="spacingAndGlyphs" transform="rotate(-90 383.6 292.2)" style="stroke-width:0.42px" >% rats without bleeding</text>
<text x="393.9" y="307.3" font-size="9.2" fill="#1e1e1e" color="#1e1e1e" text-anchor="start" textLength="101.6" lengthAdjust="spacingAndGlyphs" transform="rotate(-90 393.9 307.3)" style="stroke-width:0.42px" >episodes (by the age of 28-weeks)</text>
<text x="449.6" y="297.8" font-size="8.0" fill="#1e1e1e" text-anchor="end" textLength="41" lengthAdjust="spacingAndGlyphs" transform="rotate(-45 449.6 297.8)" color="#1e1e1e">2bF8<tspan font-size="4.3" dy="-2.8">tg</tspan><tspan dy="2.8">-BMT</tspan></text>
<text x="488.9" y="299.2" font-size="8.0" fill="#1e1e1e" text-anchor="end" textLength="37" lengthAdjust="spacingAndGlyphs" transform="rotate(-45 488.9 299.2)" color="#1e1e1e">Dahl-FVIII<tspan font-size="4.3" dy="-2.8">-/-</tspan><tspan dy="2.8"></tspan></text>
<rect x="0" y="0" width="520" height="1.1" fill="#000"/>
<rect x="0" y="0" width="1.1" height="335" fill="#000"/>
<rect x="518.5" y="0" width="1.5" height="335" fill="#000"/>
<rect x="0" y="333.5" width="520" height="1.5" fill="#000"/>
</svg>
</body></html>
